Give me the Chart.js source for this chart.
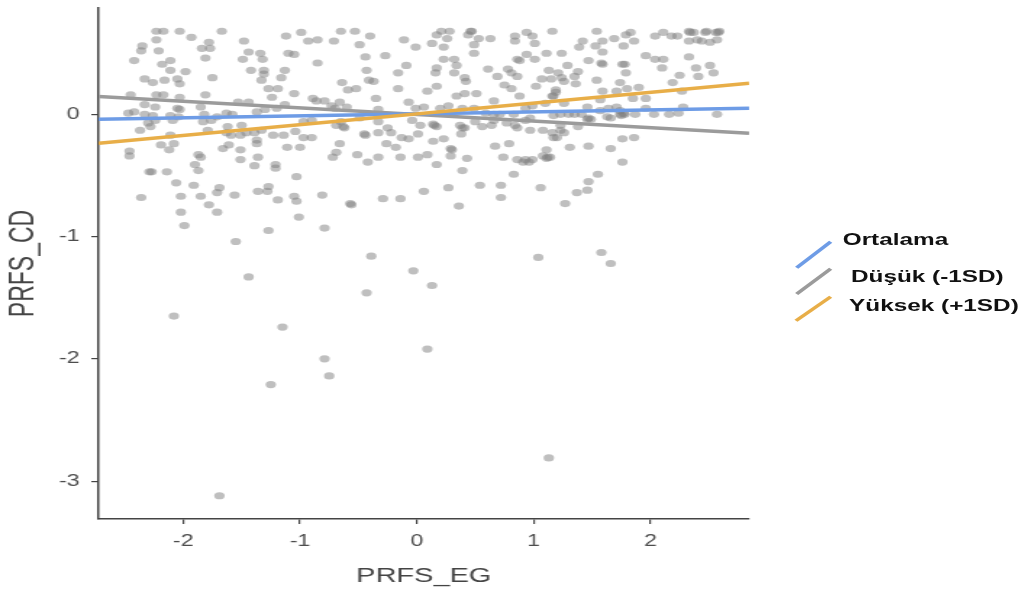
<!DOCTYPE html>
<html lang="tr">
<head>
<meta charset="utf-8">
<title>PRFS_EG – PRFS_CD</title>
<script src="https://cdn.jsdelivr.net/npm/chart.js@4.4.1/dist/chart.umd.min.js"></script>
<style>
    html, body { margin: 0; padding: 0; background: #fff; overflow: hidden; }
    /* grafik dar bir tuvalde çiziliyor, sonra yatayda genişletiliyor */
    #stage { position: relative; width: 706px; height: 597px; transform: scaleX(1.449); transform-origin: 0 0; }
    #plot { position: absolute; left: 0; top: 0; }
    #legend-keys { position: absolute; left: 0; top: 0; pointer-events: none; }
    .legend-label {
        position: absolute; white-space: nowrap; line-height: 20px;
        font: bold 16.8px "Liberation Sans", Arial, sans-serif; color: #111;
    }
</style>
</head>
<body>
<div id="stage">
    <canvas id="plot" width="706" height="597"></canvas>
    <svg id="legend-keys" width="706" height="597"></svg>
    <div id="legend"></div>
</div>
<script>
// ── eksen aralıkları ve tikler ─────────────────────────
const egRange = [-2.725, 2.845];
const cdRange = [-3.31, 0.87];
const egTicks = [-2, -1, 0, 1, 2];
const cdTicks = [-3, -2, -1, 0];

// ── moderatör düzeyleri (eğim çizgileri) ───────────────
const seriesNames = ['Ortalama', 'Düşük (-1SD)', 'Yüksek (+1SD)'];
const seriesColors = ['#6E9CE6', '#9B9B9B', '#E8AE48'];
// çizgilerin x ekseninin iki ucundaki PRFS_CD değerleri
const ortalamaLine = [-0.04, 0.05];
const dusukLine = [0.146, -0.154];
const yuksekLine = [-0.236, 0.255];

// ── gözlemler: [PRFS_EG, PRFS_CD] ──────────────────────
const observations = [
    [-2.23,0.68],[-2.17,0.68],[-2.03,0.68],[-1.93,0.63],[-1.67,0.68],[-2.23,0.61],[-2.35,0.56],[-2.36,0.52],[-2.21,0.52],[-1.78,0.59],
    [-1.84,0.54],[-1.77,0.54],[-1.48,0.60],[-1.12,0.64],[-0.99,0.67],[-0.93,0.60],[-1.44,0.51],[-1.34,0.50],[-1.10,0.50],[-1.05,0.49],
    [-2.42,0.44],[-2.11,0.44],[-2.18,0.41],[-1.81,0.46],[-1.49,0.45],[-1.32,0.45],[-2.11,0.36],[-1.98,0.35],[-1.42,0.36],[-1.31,0.36],
    [-1.31,0.33],[-1.13,0.36],[-2.33,0.29],[-2.26,0.26],[-2.16,0.28],[-2.05,0.29],[-2.03,0.25],[-1.75,0.30],[-1.33,0.28],[-1.16,0.30],
    [-0.89,0.13],[-1.27,0.21],[-1.19,0.21],[-1.24,0.14],[-1.05,0.17],[-2.45,0.16],[-2.23,0.16],[-2.17,0.16],[-2.03,0.14],[-1.81,0.16],
    [-1.53,0.10],[-1.44,0.10],[-2.33,0.08],[-2.24,0.06],[-2.05,0.05],[-2.03,0.04],[-1.85,0.06],[-1.37,0.02],[-1.30,0.04],[-1.20,0.05],
    [-1.13,0.08],[-2.47,0.01],[-2.42,0.02],[-2.33,0.00],[-2.26,-0.01],[-2.11,-0.01],[-2.04,-0.02],[-1.82,0.00],[-1.71,-0.02],[-1.63,0.01],
    [-1.58,0.00],[-2.30,-0.07],[-2.28,-0.10],[-2.24,-0.05],[-2.09,-0.05],[-1.83,-0.06],[-1.76,-0.05],[-1.62,-0.10],[-1.50,-0.09],[-2.37,-0.13],
    [-1.79,-0.13],[-1.63,-0.15],[-1.59,-0.17],[-1.51,-0.17],[-1.46,-0.15],[-1.39,-0.15],[-1.33,-0.13],[-1.23,-0.17],[-1.14,-0.17],[-1.04,-0.14],
    [-0.97,-0.19],[-0.90,-0.19],[-2.11,-0.17],[-2.19,-0.25],[-2.08,-0.24],[-2.12,-0.29],[-1.66,-0.28],[-1.61,-0.25],[-1.51,-0.29],[-1.37,-0.21],
    [-1.37,-0.24],[-1.11,-0.27],[-1.00,-0.27],[-2.46,-0.30],[-2.46,-0.34],[-1.87,-0.33],[-1.85,-0.35],[-1.90,-0.41],[-1.87,-0.46],[-1.51,-0.37],
    [-1.36,-0.35],[-1.39,-0.42],[-1.21,-0.41],[-1.21,-0.44],[-2.29,-0.47],[-2.27,-0.47],[-2.14,-0.47],[-1.03,-0.51],[-2.06,-0.56],[-1.91,-0.58],
    [-1.27,-0.59],[-1.36,-0.63],[-1.28,-0.63],[-1.69,-0.60],[-1.71,-0.64],[-2.36,-0.68],[-2.02,-0.67],[-1.85,-0.67],[-1.56,-0.66],[-1.19,-0.70],
    [-1.05,-0.67],[-1.03,-0.71],[-1.78,-0.74],[-2.02,-0.80],[-1.71,-0.80],[-1.01,-0.84],

    [-0.85,0.61],[-0.71,0.60],[-0.65,0.68],[-0.53,0.68],[-0.40,0.64],[-0.49,0.57],[-0.11,0.61],[-0.01,0.55],[0.13,0.58],[0.23,0.55],
    [0.17,0.65],[0.21,0.68],[0.28,0.68],[0.26,0.62],[0.46,0.68],[0.47,0.68],[0.44,0.65],[0.49,0.57],[0.53,0.62],[0.63,0.62],
    [0.49,0.50],[0.84,0.64],[0.84,0.60],[-0.85,0.42],[-0.44,0.47],[-0.27,0.48],[0.23,0.45],[0.32,0.45],[-0.43,0.36],[-0.16,0.34],
    [-0.09,0.40],[0.16,0.34],[0.17,0.38],[0.32,0.34],[0.34,0.40],[0.41,0.30],[0.42,0.27],[0.61,0.37],[0.69,0.31],[0.78,0.37],
    [0.81,0.34],[0.86,0.45],[-0.64,0.26],[-0.41,0.28],[-0.37,0.27],[-0.59,0.20],[-0.52,0.21],[-0.16,0.21],[0.09,0.19],[0.17,0.23],
    [0.75,0.24],[0.81,0.21],[-0.35,0.13],[0.34,0.15],[0.41,0.17],[0.51,0.17],[0.66,0.11],[-0.86,0.11],[-0.79,0.11],[-0.66,0.10],
    [-0.73,0.07],[-0.70,0.05],[-0.60,0.06],[-0.33,0.04],[-0.07,0.10],[-0.01,0.05],[0.06,0.06],[0.20,0.05],[0.27,0.07],[0.39,0.05],
    [0.49,0.05],[0.59,0.01],[0.66,0.00],[0.71,0.00],[0.83,0.00],[-0.97,-0.06],[-0.90,-0.05],[-0.69,-0.09],[-0.63,-0.10],[-0.62,-0.11],
    [-0.65,-0.06],[-0.49,-0.03],[-0.33,-0.06],[-0.04,-0.05],[0.03,-0.09],[0.15,-0.09],[0.14,-0.08],[0.17,-0.10],[0.37,-0.09],[0.41,-0.11],
    [0.50,-0.06],[0.56,-0.10],[0.64,-0.09],[0.66,-0.05],[0.77,-0.07],[0.84,-0.09],[-0.45,-0.16],[-0.44,-0.17],[-0.33,-0.15],[-0.25,-0.11],
    [-0.22,-0.15],[-0.13,-0.19],[-0.07,-0.20],[0.01,-0.16],[0.14,-0.22],[0.23,-0.20],[0.38,-0.16],[0.39,-0.11],[-0.66,-0.24],[-0.26,-0.24],
    [-0.18,-0.27],[0.29,-0.28],[0.30,-0.29],[0.67,-0.26],[0.79,-0.24],[-0.69,-0.31],[-0.72,-0.35],[-0.51,-0.33],[-0.42,-0.39],[-0.33,-0.35],
    [-0.14,-0.35],[0.01,-0.35],[0.09,-0.33],[0.17,-0.41],[0.29,-0.34],[0.43,-0.36],[0.74,-0.35],[0.86,-0.37],[0.39,-0.46],[0.83,-0.49],
    [0.27,-0.60],[0.54,-0.58],[0.72,-0.58],[-0.81,-0.66],[-0.57,-0.73],[-0.56,-0.74],[-0.29,-0.69],[-0.14,-0.69],[0.06,-0.63],[0.36,-0.75],
    [0.72,-0.68],

    [0.94,0.67],[0.99,0.64],[1.01,0.58],[1.16,0.68],[1.42,0.60],[1.39,0.55],[1.54,0.68],[1.53,0.56],[1.59,0.60],[1.59,0.51],
    [1.69,0.62],[1.77,0.56],[1.79,0.65],[1.83,0.67],[1.86,0.60],[2.04,0.64],[2.11,0.67],[2.18,0.64],[2.23,0.64],[2.34,0.67],
    [2.33,0.68],[2.37,0.67],[2.47,0.67],[2.48,0.68],[2.56,0.67],[2.58,0.67],[2.59,0.68],[2.33,0.60],[2.40,0.61],[2.44,0.60],
    [2.51,0.59],[2.57,0.61],[0.94,0.49],[1.01,0.45],[1.11,0.50],[1.24,0.50],[0.88,0.44],[1.47,0.44],[1.58,0.42],[1.59,0.41],
    [1.76,0.41],[1.78,0.41],[1.96,0.48],[2.04,0.45],[2.11,0.45],[2.33,0.47],[1.13,0.36],[1.21,0.34],[1.29,0.40],[1.38,0.35],
    [1.24,0.30],[1.26,0.27],[1.35,0.31],[1.36,0.25],[0.86,0.31],[1.07,0.29],[1.15,0.29],[1.54,0.28],[1.79,0.34],[2.10,0.38],
    [2.39,0.38],[2.51,0.40],[2.54,0.34],[2.41,0.31],[2.25,0.32],[2.19,0.26],[1.02,0.23],[1.19,0.20],[1.19,0.18],[1.17,0.15],
    [1.16,0.15],[1.59,0.19],[1.71,0.19],[1.80,0.21],[1.74,0.26],[1.90,0.22],[1.96,0.13],[2.27,0.19],[1.85,0.13],[0.88,0.15],
    [0.93,0.05],[0.99,0.07],[1.10,0.09],[1.26,0.09],[1.57,0.12],[1.46,0.06],[1.57,0.03],[1.64,0.05],[1.71,0.06],[1.74,0.03],
    [1.74,0.00],[1.75,-0.01],[1.78,0.00],[1.77,0.01],[1.30,0.00],[1.35,0.00],[1.41,0.00],[1.46,-0.04],[1.47,-0.03],[1.49,-0.04],
    [1.63,-0.02],[1.66,-0.03],[1.87,0.00],[1.96,0.05],[2.03,0.00],[2.16,0.00],[2.24,0.01],[2.28,0.06],[2.57,0.00],[1.17,-0.01],
    [1.23,0.00],[0.93,-0.05],[0.97,-0.03],[0.86,-0.11],[0.97,-0.13],[1.08,-0.13],[1.16,-0.15],[1.23,-0.09],[1.23,-0.13],[1.38,-0.10],
    [1.17,-0.19],[1.20,-0.19],[1.26,-0.15],[1.76,-0.20],[1.86,-0.19],[1.11,-0.29],[1.08,-0.34],[1.11,-0.36],[1.14,-0.35],[1.12,-0.35],
    [1.31,-0.27],[1.47,-0.26],[1.66,-0.28],[0.93,-0.37],[0.96,-0.39],[0.99,-0.37],[0.91,-0.39],[1.76,-0.39],[1.55,-0.49],[1.47,-0.55],
    [1.06,-0.60],[1.37,-0.64],[1.46,-0.62],[1.27,-0.73],

    // aşağıdaki seyrek (uç) gözlemler
    [-1.99,-0.91],[-1.27,-0.95],[-0.79,-0.93],[-1.55,-1.04],[-0.39,-1.16],[-1.44,-1.33],[-0.03,-1.28],[-0.43,-1.46],[-2.08,-1.65],[-1.15,-1.74],
    [0.09,-1.92],[-0.79,-2.00],[-0.75,-2.14],[-1.25,-2.21],[-1.69,-3.12],[1.04,-1.17],[1.58,-1.13],[1.66,-1.22],[0.13,-1.40],[1.13,-2.81]
];

// ── grafik ─────────────────────────────────────────────
const FONT = '"Liberation Sans", Arial, sans-serif';
const axisColor = '#444';

// eksen kutusunun boyutunu sabitle, Chart.js'in ek boşluklarını kaldır
const fixAxis = size => scale => {
    if (scale.isHorizontal()) scale.height = size; else scale.width = size;
    scale.paddingTop = scale.paddingBottom = scale.paddingLeft = scale.paddingRight = 0;
};

const slopeLines = [ortalamaLine, dusukLine, yuksekLine];
const lineOrder = [1, 2, 0];   // turuncu en üstte
const lineSets = slopeLines.map((vals, i) => ({
    type: 'line',
    label: seriesNames[i],
    data: egRange.map((x, k) => ({ x, y: vals[k] })),
    borderColor: seriesColors[i],
    borderWidth: 3.5,
    pointRadius: 0,
    fill: false,
    order: lineOrder[i],
}));

new Chart(document.getElementById('plot').getContext('2d'), {
    type: 'scatter',
    data: {
        datasets: [
            ...lineSets,
            {
                type: 'scatter',
                label: 'gözlem',
                data: observations.map(([x, y]) => ({ x, y })),
                pointRadius: 3.6,
                backgroundColor: 'rgba(128,128,128,0.5)',
                borderWidth: 0,
                order: 5,
            },
        ],
    },
    options: {
        responsive: false,
        animation: false,
        events: [],
        layout: { padding: { left: 0, right: 189, top: 8, bottom: 0 } },
        plugins: { legend: { display: false }, tooltip: { enabled: false } },
        scales: {
            x: {
                type: 'linear',
                min: egRange[0],
                max: egRange[1],
                afterBuildTicks: s => { s.ticks = egTicks.map(value => ({ value })); },
                afterFit: fixAxis(78),
                grid: { drawOnChartArea: false, drawTicks: true, tickLength: 5, color: axisColor, lineWidth: 1.2 },
                border: { display: true, color: axisColor, width: 1.5 },
                ticks: { color: '#4d4d4d', font: { family: FONT, size: 16 }, padding: 8, maxRotation: 0 },
                title: { display: true, text: 'PRFS_EG', color: '#444', font: { family: FONT, size: 20 }, padding: { top: 0, bottom: 9 } },
            },
            y: {
                type: 'linear',
                min: cdRange[0],
                max: cdRange[1],
                afterBuildTicks: s => { s.ticks = cdTicks.map(value => ({ value })); },
                afterFit: fixAxis(68),
                grid: { drawOnChartArea: false, drawTicks: true, tickLength: 5, color: axisColor, lineWidth: 1.2 },
                border: { display: true, color: axisColor, width: 1.5 },
                ticks: { color: '#4d4d4d', font: { family: FONT, size: 16 }, padding: 8 },
                title: { display: true, text: 'PRFS_CD', color: '#444', font: { family: FONT, size: 23 }, padding: { top: 3, bottom: 0 } },
            },
        },
    },
});

// ── lejant: çapraz çizgi + kalın etiket ────────────────
const legendSlots = [
    { key: [549.8, 267.7, 573.3, 241.7], label: [581.6, 239.7] },
    { key: [549.8, 294.0, 573.3, 268.7], label: [587.3, 276.0] },
    { key: [549.3, 320.7, 573.3, 296.7], label: [586.0, 305.0] },
];
const svg = document.getElementById('legend-keys');
const legendBox = document.getElementById('legend');
legendSlots.forEach((slot, i) => {
    const [x1, y1, x2, y2] = slot.key;
    const ln = document.createElementNS('http://www.w3.org/2000/svg', 'line');
    ln.setAttribute('x1', x1); ln.setAttribute('y1', y1);
    ln.setAttribute('x2', x2); ln.setAttribute('y2', y2);
    ln.setAttribute('stroke', seriesColors[i]);
    ln.setAttribute('stroke-width', 3);
    svg.appendChild(ln);

    const span = document.createElement('span');
    span.className = 'legend-label';
    span.textContent = seriesNames[i];
    span.style.left = slot.label[0] + 'px';
    span.style.top = (slot.label[1] - 9.5) + 'px';
    legendBox.appendChild(span);
});
</script>
</body>
</html>
